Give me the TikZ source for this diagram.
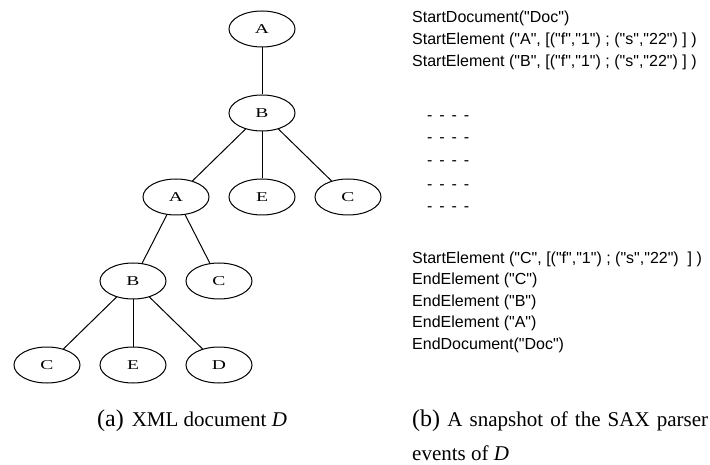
\documentclass[tikz,border=0pt]{standalone}
\usepackage{fontspec}
\setmainfont{Liberation Serif}
\setsansfont{Liberation Sans}[Ligatures=TeXOff]
\newfontfamily\tagfont{Liberation Serif}[FakeStretch=1.45]
\usetikzlibrary{shapes.geometric, positioning}

\begin{document}
\begin{tikzpicture}[
    x=1pt, y=-1pt,
    level distance=84pt,
    sibling distance=86pt,
    elem/.style={draw, ellipse, line width=1pt, minimum width=66pt, minimum height=36pt, inner sep=0pt, font=\tagfont\fontsize{13.5}{13.5}\selectfont},
    every child node/.style={elem},
    edge from parent/.style={draw, line width=1pt},
    event/.style={anchor=west, inner sep=0pt, font=\sffamily\fontsize{16}{18}\selectfont},
    caption/.style={anchor=west, inner sep=0pt, font=\fontsize{21}{23}\selectfont}
]
\useasboundingbox (0,0) rectangle (710,465);

% the XML tree
\node[elem] (a1) at (262,29) {A}
    child {
        node (b1) {B}
        child {
            node (a2) {A}
            child {
                node (b2) {B}
                child {node (c3) {C}}
                child {node (e2) {E}}
                child {node (d1) {D}}
            }
            child {node (c2) {C}}
        }
        child {node (e1) {E}}
        child {node (c1) {C}}
    };

% SAX events
\node[event] (ev1) at (412,18) {StartDocument("Doc")};
\node[event] (ev2) at (412,40) {StartElement ("A", [("f","1") ; ("s","22") ] )};
\node[event] (ev3) at (412,62) {StartElement ("B", [("f","1") ; ("s","22") ] )};
\foreach \y [count=\i] in {118,140,163,187,209}
    \node[event] (gap\i) at (427,\y) {\makebox[42pt][s]{- - - -}};
\node[event] (ev4) at (412,259) {StartElement ("C", [("f","1") ; ("s","22")\ \ ] )};
\node[event] (ev5) at (412,280) {EndElement ("C")};
\node[event] (ev6) at (412,302) {EndElement ("B")};
\node[event] (ev7) at (412,323) {EndElement ("A")};
\node[event] (ev8) at (412,345) {EndDocument("Doc")};

% captions
\node[caption] (capa) at (97,421) {{\fontsize{24}{24}\selectfont(a)}\hspace{8pt}XML document \textit{D}};
\node[caption] (capb) at (412,421) {\makebox[296pt][s]{{\fontsize{24}{24}\selectfont(b)}\ A snapshot of the SAX parser}};
\node[caption] (capb2) at (412,453) {events of \textit{D}};
\end{tikzpicture}
\end{document}
